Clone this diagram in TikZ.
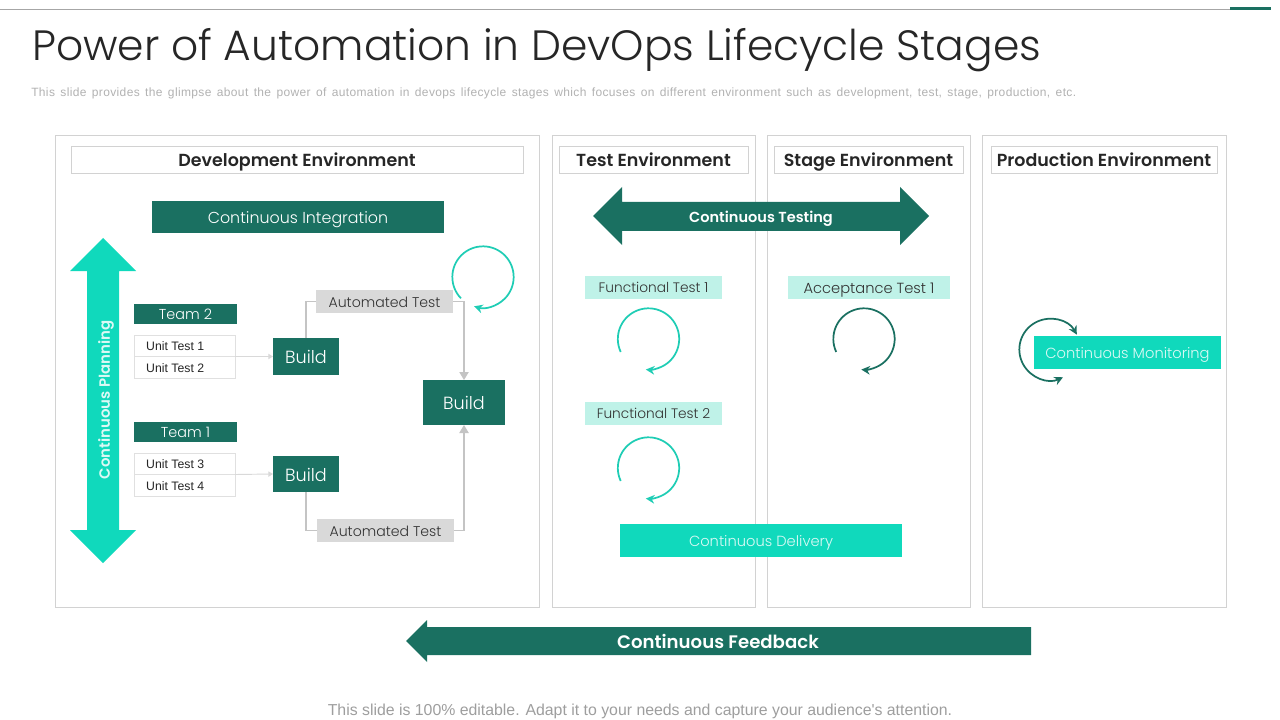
\documentclass[tikz,border=0pt]{standalone}
\usepackage{fontspec}
\setmainfont{Poppins Light}[BoldFont={Poppins SemiBold}]
\newfontfamily\arialf{Liberation Sans}
\usetikzlibrary{arrows.meta,calc}
\definecolor{dkgreen}{HTML}{1A7061}
\definecolor{teal1}{HTML}{10D9BC}
\definecolor{teal2}{HTML}{1FCDB5}
\definecolor{ltteal}{HTML}{BFF2E8}
\definecolor{greybox}{HTML}{D9D9D9}
\definecolor{framec}{HTML}{D2D2D2}
\definecolor{linec}{HTML}{C4C4C4}
\tikzset{
  x=0.75pt,y=-0.75pt,
  vc/.style={execute at begin node={\rule[-0.25em]{0pt}{1.3em}}},
  filled/.style={rectangle,inner sep=0pt,outer sep=0pt,vc},
  panel/.style={draw=framec,line width=0.75pt,fill=none},
  header/.style={draw=framec,line width=0.6pt,fill=white,inner sep=0pt,vc,font=\bfseries\fontsize{13.1}{16}\selectfont,text=black!85},
  dark/.style={fill=dkgreen,text=white,filled},
  tealbox/.style={fill=teal1,text=white!85!teal1,filled,font=\fontsize{11}{14}\selectfont},
  pale/.style={fill=ltteal,text=black!80,filled,font=\fontsize{10.3}{13}\selectfont},
  grey/.style={fill=greybox,text=black!80,filled,font=\fontsize{10.6}{13}\selectfont},
  cell/.style={draw=black!12,line width=0.75pt,fill=white,inner sep=0pt,vc,text=black!85,font=\arialf\fontsize{9.2}{11}\selectfont},
  conn/.style={draw=linec,line width=0.8pt},
  connarrow/.style={conn,-{Triangle[length=6pt,width=7pt]}},
  faint/.style={draw=black!15,line width=0.7pt,-{Triangle[length=3.5pt,width=4pt]}},
  loopteal/.style={draw=teal2,line width=1.3pt,-{Stealth[length=6.5pt,width=6.5pt]}},
  loopdark/.style={draw=dkgreen,line width=1.3pt,-{Stealth[length=6.5pt,width=6.5pt]}},
  loopboth/.style={draw=dkgreen,line width=1.3pt,{Stealth[length=6.5pt,width=6.5pt]}-{Stealth[length=6.5pt,width=6.5pt]}},
}
\newcommand{\rectnode}[6]{% style, name, x1, y1, x2, y2 (text follows)
  \node[#1,minimum width=(#5-#3)*0.75pt,minimum height=(#6-#4)*0.75pt] (#2) at ({(#3+#5)/2},{(#4+#6)/2})}
\begin{document}
\begin{tikzpicture}
\useasboundingbox (0,0) rectangle (1280,720);
\fill[white] (0,0) rectangle (1280,720);
% top rule
\draw[draw=black!35,line width=0.7pt] (0,9.5) -- (1230,9.5);
\draw[draw=dkgreen,line width=2.2pt] (1230,8.5) -- (1271,8.5);
% title
\node[anchor=west,inner sep=0pt,text=black!85,vc] (title) at (32,50) {\fontsize{31.8}{38}\selectfont Power of Automation in DevOps Lifecycle Stages};
\node[anchor=west,inner sep=0pt,text=black!30,vc] (sub) at (31,91) {\arialf\fontsize{9}{11}\selectfont\addfontfeatures{LetterSpace=3}\spaceskip=4.05pt This slide provides the glimpse about the power of automation in devops lifecycle stages which focuses on different environment such as development, test, stage, production, etc.};
% panels
\rectnode{panel}{pdev}{55}{136}{539}{607} {};
\rectnode{panel}{ptest}{552}{136}{755}{607} {};
\rectnode{panel}{pstage}{767}{136}{970}{607} {};
\rectnode{panel}{pprod}{982}{136}{1226}{607} {};
% headers
\rectnode{header}{hdev}{71}{146}{523}{173} {Development Environment};
\rectnode{header}{htest}{559}{146}{748}{173} {Test Environment};
\rectnode{header}{hstage}{774}{146}{963}{173} {Stage Environment};
\rectnode{header}{hprod}{991}{146}{1217}{173} {Production Environment};
% CI
\rectnode{dark,font=\fontsize{11.9}{15}\selectfont}{ci}{152}{201}{444}{233} {Continuous Integration};
% planning arrow
\fill[teal1] (103,238) -- (136,271) -- (119,271) -- (119,530) -- (136,530) -- (103,563) -- (70,530) -- (87,530) -- (87,271) -- (70,271) -- cycle;
\node[rotate=90,text=white!85!teal1,font=\bfseries\fontsize{11.2}{15}\selectfont,inner sep=0pt,vc] (plan) at (104,400) {Continuous Planning};
% teams
\rectnode{dark,font=\fontsize{10.8}{13}\selectfont}{t2}{134}{304}{237}{324} {Team 2};
\rectnode{dark,font=\fontsize{10.8}{13}\selectfont}{t1}{134}{422}{237}{442} {Team 1};
\rectnode{cell}{u1}{134}{335}{235}{356.5} {\hspace*{-14pt}Unit Test 1};
\rectnode{cell}{u2}{134}{356.5}{235}{378} {\hspace*{-14pt}Unit Test 2};
\rectnode{cell}{u3}{134}{453}{235}{474.5} {\hspace*{-14pt}Unit Test 3};
\rectnode{cell}{u4}{134}{474.5}{235}{496} {\hspace*{-14pt}Unit Test 4};
% builds
\rectnode{dark,font=\fontsize{13.2}{16}\selectfont}{b1}{273}{338}{339}{375} {Build};
\rectnode{dark,font=\fontsize{13.2}{16}\selectfont}{b2}{273}{456}{339}{492} {Build};
\rectnode{dark,font=\fontsize{13.2}{16}\selectfont}{b3}{423}{380}{505}{425} {Build};
% automated tests
\rectnode{grey}{a1}{316}{290}{453}{313} {Automated Test};
\rectnode{grey}{a2}{317}{519}{454}{542} {Automated Test};
% connectors
\coordinate (j1) at (235,356.5);
\coordinate (j2) at (235,474.5);
\draw[faint] (j1) -- (b1.west);
\draw[faint] (j2) -- (b2.west);
\draw[conn] (b1.north) |- (a1.west);
\draw[conn] (b2.south) |- (a2.west);
\draw[connarrow] (a1.east) -| (b3.north);
\draw[connarrow] (a2.east) -| (b3.south);
% loops
\coordinate (c0) at (483,277);
\coordinate (c1) at (648.5,339);
\coordinate (c2) at (648.5,468);
\coordinate (c3) at (864,339);
\coordinate (c4) at (1050,349.5);
\draw[loopteal] ([shift={(224:23pt)}]c0) arc[start angle=224,end angle=-107,radius=23pt];
\draw[loopteal] ([shift={(205:23pt)}]c1) arc[start angle=205,end angle=-95,radius=23pt];
\draw[loopteal] ([shift={(205:23pt)}]c2) arc[start angle=205,end angle=-95,radius=23pt];
\draw[loopdark] ([shift={(205:23pt)}]c3) arc[start angle=205,end angle=-95,radius=23pt];
\draw[loopboth] ([shift={(29:23pt)}]c4) arc[start angle=29,end angle=295,radius=23pt];
% testing arrow
\fill[dkgreen] (593,216) -- (622,187) -- (622,202) -- (900,202) -- (900,187) -- (929,216) -- (900,245) -- (900,231) -- (622,231) -- (622,245) -- cycle;
\node[text=white,font=\bfseries\fontsize{10.9}{14}\selectfont,inner sep=0pt,vc] (ctest) at (761,217) {Continuous Testing};
% tests
\rectnode{pale}{f1}{585}{276}{722}{299} {Functional Test 1};
\rectnode{pale}{f2}{585}{402}{722}{425} {Functional Test 2};
\rectnode{pale,font=\fontsize{11}{13}\selectfont}{acc}{788}{276}{950}{299} {Acceptance Test 1};
% delivery, monitoring
\rectnode{tealbox}{del}{620}{524}{902}{557} {Continuous Delivery};
\rectnode{tealbox}{mon}{1034}{336}{1221}{369} {Continuous Monitoring};
% feedback arrow
\fill[dkgreen] (406,641) -- (427,620) -- (427,627) -- (1031,627) -- (1031,655) -- (427,655) -- (427,662) -- cycle;
\node[text=white,font=\bfseries\fontsize{13.6}{17}\selectfont,inner sep=0pt,vc] (fb) at (718,641) {Continuous Feedback};
% footer
\node[text=black!38,inner sep=0pt,vc] (foot) at (640,710) {\arialf\fontsize{11.88}{15}\selectfont This slide is 100\% editable. Adapt it to your needs and capture your audience's attention.};
\end{tikzpicture}
\end{document}
